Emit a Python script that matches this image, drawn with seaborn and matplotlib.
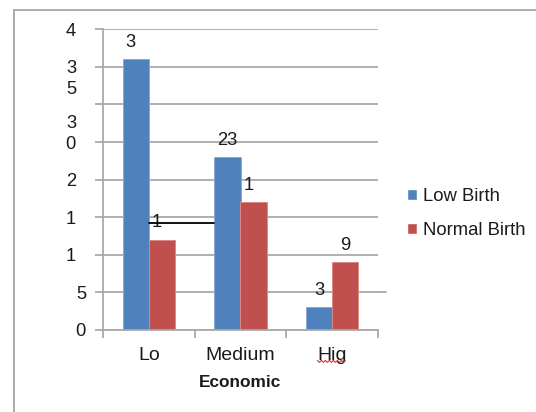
import numpy as np
import pandas as pd
import matplotlib
matplotlib.use("Agg")
import matplotlib.pyplot as plt
import seaborn as sns
from matplotlib.lines import Line2D
from matplotlib.transforms import IdentityTransform

# ---- data ----
categories = ["Lo", "Medium", "Hig"]
series_names = ["Low Birth", "Normal Birth"]
low_birth = [36, 23, 3]
normal_birth = [12, 17, 9]
# value labels as they appear (narrow label boxes cut long numbers)
low_birth_labels = ["3", "23", "3"]
normal_birth_labels = ["1", "1", "9"]

y_ticks = [0, 5, 10, 15, 20, 25, 30, 35, 40]
y_tick_labels = ["0", "5", "1", "1", "2", "0", "", "3", "4"]
# wrapped pieces of y labels: tick they belong to, text, line offset (+ up / - down)
y_wrap_ticks = [35, 25]
y_wrap_labels = ["5", "3"]
y_wrap_lines = [-1, 1]

x_title = "Economic"

# ---- style ----
sns.set_theme(style="white")
plt.rcParams["font.family"] = ["Liberation Sans", "DejaVu Sans"]

BLUE = "#4F81BD"
RED = "#C0504D"
GRID = "#A9A9A9"
TEXT = "#1A1A1A"
FS = 13.2

W, H = 536, 412
fig = plt.figure(figsize=(W / 100, H / 100), dpi=100)
ax = fig.add_axes([103 / W, 82 / H, 275 / W, 300.7 / H])

df = pd.DataFrame({
    "Economic": categories * 2,
    "Count": low_birth + normal_birth,
    "Birth": [series_names[0]] * len(categories) + [series_names[1]] * len(categories),
})

sns.barplot(data=df, x="Economic", y="Count", hue="Birth",
            order=categories, hue_order=series_names,
            palette=[BLUE, RED], saturation=1, width=0.57,
            errorbar=None, ax=ax)

edge_cols = ["#8AAAD6", "#D98A88"]
for cont, ec in zip(ax.containers, edge_cols):
    for p in cont:
        p.set_edgecolor(ec)
        p.set_linewidth(0.7)

ax.set_xlim(-0.5, len(categories) - 0.5)
ax.set_ylim(0, 40)

# grid and axes
ax.set_axisbelow(True)
ax.yaxis.grid(True, color=GRID, lw=1.3)
ax.xaxis.grid(False)
for s in ["top", "right"]:
    ax.spines[s].set_visible(False)
for s in ["left", "bottom"]:
    ax.spines[s].set_color(GRID)
    ax.spines[s].set_linewidth(1.3)

ax.set_yticks(y_ticks)
ax.set_yticklabels([])
ax.tick_params(axis="y", left=True, length=6, width=1.3, color=GRID)

ax.set_xticks(range(len(categories)))
ax.set_xticklabels(categories, fontsize=14, color=TEXT)
ax.set_xticks(np.arange(-0.5, len(categories), 1.0), minor=True)
ax.tick_params(axis="x", which="major", length=0, pad=12.5)
ax.tick_params(axis="x", which="minor", bottom=True, length=6, width=1.3, color=GRID)

ax.set_xlabel(x_title, fontsize=12.4, fontweight="bold", color=TEXT, labelpad=7.5)
ax.set_ylabel("")

# y labels
ytrans = ax.get_yaxis_transform()
for t, lab in zip(y_ticks, y_tick_labels):
    if not lab:
        continue
    right_px = 86 if t <= 5 else 76
    ax.text(-(103 - right_px) / 275, t, lab, transform=ytrans, ha="right",
            va="center_baseline", fontsize=FS, color=TEXT)
for t, lab, n in zip(y_wrap_ticks, y_wrap_labels, y_wrap_lines):
    ax.annotate(lab, (-(103 - 76) / 275, t), xycoords=ytrans,
                xytext=(0, n * 14.5), textcoords="offset points",
                ha="right", va="center_baseline", fontsize=FS, color=TEXT)

# value labels above bars
digit_w = 0.556 * FS
for cont, vals, labs in zip(ax.containers, [low_birth, normal_birth],
                            [low_birth_labels, normal_birth_labels]):
    for bar, v, lab in zip(cont, vals, labs):
        cx = bar.get_x() + bar.get_width() / 2
        full = str(v)
        if len(lab) < len(full):
            ax.annotate(lab, (cx, v), xytext=(-len(full) * digit_w / 2, 13.7),
                        textcoords="offset points", ha="left", va="center_baseline",
                        fontsize=FS, color=TEXT)
        else:
            ax.annotate(lab, (cx, v), xytext=(0, 13.7),
                        textcoords="offset points", ha="center", va="center_baseline",
                        fontsize=FS, color=TEXT)

# stray connector line between the first two groups
first_blue = ax.containers[0][0]
second_blue = ax.containers[0][1]
ax.plot([first_blue.get_x() + first_blue.get_width(), second_blue.get_x()],
        [14.2, 14.2], color="black", lw=1.3, zorder=4)

# short overhang of the 5 gridline past the plot edge
ax.plot([2.5, 2.5 + 8 / 91.7], [5, 5], color=GRID, lw=1.3, clip_on=False, zorder=0)

# legend
leg = ax.get_legend()
handles, labels = ax.get_legend_handles_labels()
if leg is not None:
    leg.remove()
fig.legend(handles, labels, loc="center left", bbox_to_anchor=(407 / W, 1 - 213.5 / H),
           frameon=False, fontsize=13.3, handlelength=0.55, handleheight=0.55,
           handletextpad=0.3, labelspacing=0.95, borderpad=0, borderaxespad=0,
           labelcolor=TEXT)

# chart frame (top and left edges visible)
fig.add_artist(Line2D([13.5 / W, 1], [1 - 9.5 / H, 1 - 9.5 / H],
                      transform=fig.transFigure, color="#A6A6A6", lw=1.3))
fig.add_artist(Line2D([14 / W, 14 / W], [0, 1 - 9.5 / H],
                      transform=fig.transFigure, color="#A6A6A6", lw=1.3))

# red squiggle under the last category label
fig.canvas.draw()
lbl = ax.get_xticklabels()[2]
bb = lbl.get_window_extent(fig.canvas.get_renderer())
xs = np.arange(bb.x0, bb.x1 + 0.1, 2.0)
ys = bb.y0 + 3 + np.where(np.arange(len(xs)) % 2 == 0, 1.0, -1.0)
fig.add_artist(Line2D(xs, ys, transform=IdentityTransform(), color="#E03030", lw=0.8))

fig.savefig("out.png", dpi=100)
